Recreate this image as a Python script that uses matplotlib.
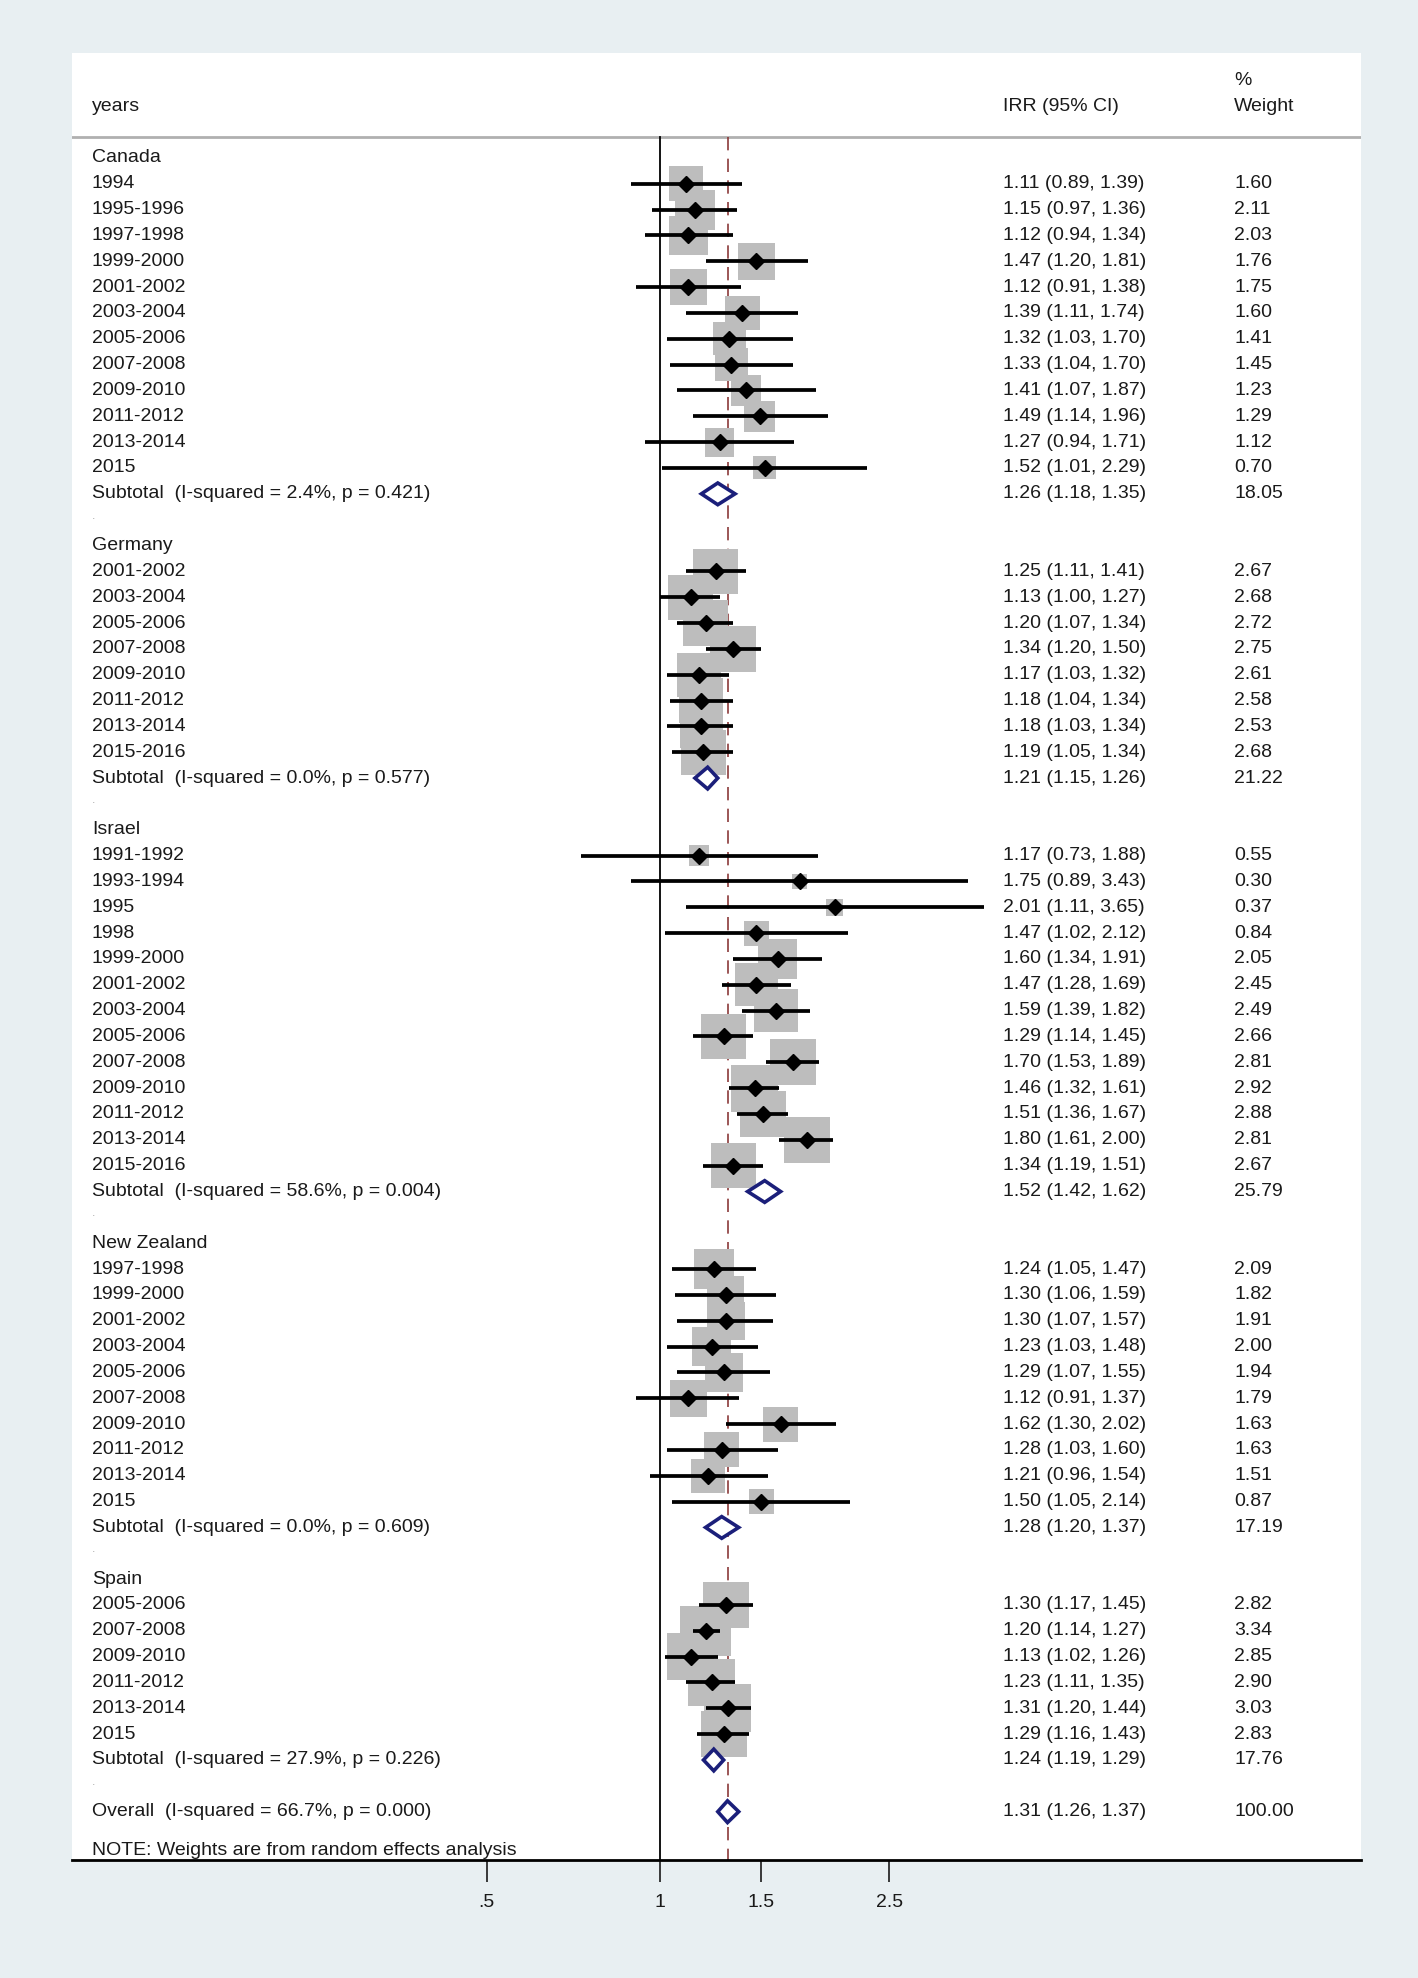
import numpy as np
import matplotlib.pyplot as plt
from matplotlib import transforms

plt.rcParams['font.family'] = ['Liberation Sans', 'DejaVu Sans']

# ---- data ----
canada_years = ["1994", "1995-1996", "1997-1998", "1999-2000", "2001-2002", "2003-2004",
                "2005-2006", "2007-2008", "2009-2010", "2011-2012", "2013-2014", "2015"]
canada_irr = [1.11, 1.15, 1.12, 1.47, 1.12, 1.39, 1.32, 1.33, 1.41, 1.49, 1.27, 1.52]
canada_lo = [0.89, 0.97, 0.94, 1.20, 0.91, 1.11, 1.03, 1.04, 1.07, 1.14, 0.94, 1.01]
canada_hi = [1.39, 1.36, 1.34, 1.81, 1.38, 1.74, 1.70, 1.70, 1.87, 1.96, 1.71, 2.29]
canada_wt = [1.60, 2.11, 2.03, 1.76, 1.75, 1.60, 1.41, 1.45, 1.23, 1.29, 1.12, 0.70]

germany_years = ["2001-2002", "2003-2004", "2005-2006", "2007-2008",
                 "2009-2010", "2011-2012", "2013-2014", "2015-2016"]
germany_irr = [1.25, 1.13, 1.20, 1.34, 1.17, 1.18, 1.18, 1.19]
germany_lo = [1.11, 1.00, 1.07, 1.20, 1.03, 1.04, 1.03, 1.05]
germany_hi = [1.41, 1.27, 1.34, 1.50, 1.32, 1.34, 1.34, 1.34]
germany_wt = [2.67, 2.68, 2.72, 2.75, 2.61, 2.58, 2.53, 2.68]

israel_years = ["1991-1992", "1993-1994", "1995", "1998", "1999-2000", "2001-2002", "2003-2004",
                "2005-2006", "2007-2008", "2009-2010", "2011-2012", "2013-2014", "2015-2016"]
israel_irr = [1.17, 1.75, 2.01, 1.47, 1.60, 1.47, 1.59, 1.29, 1.70, 1.46, 1.51, 1.80, 1.34]
israel_lo = [0.73, 0.89, 1.11, 1.02, 1.34, 1.28, 1.39, 1.14, 1.53, 1.32, 1.36, 1.61, 1.19]
israel_hi = [1.88, 3.43, 3.65, 2.12, 1.91, 1.69, 1.82, 1.45, 1.89, 1.61, 1.67, 2.00, 1.51]
israel_wt = [0.55, 0.30, 0.37, 0.84, 2.05, 2.45, 2.49, 2.66, 2.81, 2.92, 2.88, 2.81, 2.67]

nz_years = ["1997-1998", "1999-2000", "2001-2002", "2003-2004", "2005-2006",
            "2007-2008", "2009-2010", "2011-2012", "2013-2014", "2015"]
nz_irr = [1.24, 1.30, 1.30, 1.23, 1.29, 1.12, 1.62, 1.28, 1.21, 1.50]
nz_lo = [1.05, 1.06, 1.07, 1.03, 1.07, 0.91, 1.30, 1.03, 0.96, 1.05]
nz_hi = [1.47, 1.59, 1.57, 1.48, 1.55, 1.37, 2.02, 1.60, 1.54, 2.14]
nz_wt = [2.09, 1.82, 1.91, 2.00, 1.94, 1.79, 1.63, 1.63, 1.51, 0.87]

spain_years = ["2005-2006", "2007-2008", "2009-2010", "2011-2012", "2013-2014", "2015"]
spain_irr = [1.30, 1.20, 1.13, 1.23, 1.31, 1.29]
spain_lo = [1.17, 1.14, 1.02, 1.11, 1.20, 1.16]
spain_hi = [1.45, 1.27, 1.26, 1.35, 1.44, 1.43]
spain_wt = [2.82, 3.34, 2.85, 2.90, 3.03, 2.83]

countries = ["Canada", "Germany", "Israel", "New Zealand", "Spain"]
sub_isq = ["2.4%", "0.0%", "58.6%", "0.0%", "27.9%"]
sub_p = ["0.421", "0.577", "0.004", "0.609", "0.226"]
sub_irr = [1.26, 1.21, 1.52, 1.28, 1.24]
sub_lo = [1.18, 1.15, 1.42, 1.20, 1.19]
sub_hi = [1.35, 1.26, 1.62, 1.37, 1.29]
sub_wt = [18.05, 21.22, 25.79, 17.19, 17.76]

overall = dict(isq="66.7%", p="0.000", irr=1.31, lo=1.26, hi=1.37, wt=100.00)

xticks = [0.5, 1, 1.5, 2.5]
xticklabels = [".5", "1", "1.5", "2.5"]

groups = [
    (canada_years, canada_irr, canada_lo, canada_hi, canada_wt),
    (germany_years, germany_irr, germany_lo, germany_hi, germany_wt),
    (israel_years, israel_irr, israel_lo, israel_hi, israel_wt),
    (nz_years, nz_irr, nz_lo, nz_hi, nz_wt),
    (spain_years, spain_irr, spain_lo, spain_hi, spain_wt),
]

# ---- figure ----
W, H = 1418, 1978
fig = plt.figure(figsize=(W / 100, H / 100), dpi=100, facecolor="#e8eff2")
left, right, top, bottom = 72, 1361, 53, 1860
ax = fig.add_axes([left / W, 1 - bottom / H, (right - left) / W, (bottom - top) / H])
ax.set_facecolor("white")

ax.set_xscale("log")
ax.set_xlim(np.exp((left - 660) / 250), np.exp((right - 660) / 250))
ax.set_ylim(65.87, -4.06)

fs = 14
tc = "#1a1a1a"
tr = transforms.blended_transform_factory(ax.transAxes, ax.transData)
x_lab, x_irr, x_wt = 0.0155, 0.7223, 0.9015

box_c = "#bdbdbd"
dia_c = "#1b1f7a"
dh = 0.42


def put(x, y, s, **kw):
    ax.text(x, y, s, transform=tr, va="center", fontsize=fs, color=tc, **kw)


row = 0
for name, (yrs, irr, lo, hi, wt), isq, p, s_e, s_l, s_h, s_w in zip(
        countries, groups, sub_isq, sub_p, sub_irr, sub_lo, sub_hi, sub_wt):
    put(x_lab, row, name)
    row += 1
    rows = np.arange(row, row + len(yrs))
    ax.scatter(irr, rows, marker="s", s=np.array(wt) * 392, color=box_c, lw=0, zorder=2)
    ax.hlines(rows, lo, hi, color="black", lw=2.7, zorder=3)
    ax.plot(irr, rows, "D", color="black", ms=8, zorder=4)
    for r, y, e, l, h, w in zip(rows, yrs, irr, lo, hi, wt):
        put(x_lab, r, y)
        put(x_irr, r, f"{e:.2f} ({l:.2f}, {h:.2f})")
        put(x_wt, r, f"{w:.2f}")
    row += len(yrs)
    ax.fill([s_l, s_e, s_h, s_e], [row, row - dh, row, row + dh], facecolor="white",
            edgecolor=dia_c, lw=2.6, zorder=5)
    put(x_lab, row, f"Subtotal  (I-squared = {isq}, p = {p})")
    put(x_irr, row, f"{s_e:.2f} ({s_l:.2f}, {s_h:.2f})")
    put(x_wt, row, f"{s_w:.2f}")
    row += 1
    ax.text(x_lab, row - 0.15, ".", transform=tr, va="center", fontsize=9, color="#aaaaaa")
    row += 1

# overall
o = overall
ax.fill([o["lo"], o["irr"], o["hi"], o["irr"]], [row, row - dh, row, row + dh], facecolor="white",
        edgecolor=dia_c, lw=2.6, zorder=5)
put(x_lab, row, f"Overall  (I-squared = {o['isq']}, p = {o['p']})")
put(x_irr, row, f"{o['irr']:.2f} ({o['lo']:.2f}, {o['hi']:.2f})")
put(x_wt, row, f"{o['wt']:.2f}")
put(x_lab, row + 1.5, "NOTE: Weights are from random effects analysis")

# header
put(x_lab, -2, "years")
put(x_irr, -2, "IRR (95% CI)")
put(x_wt, -3, "%")
put(x_wt, -2, "Weight")
ax.axhline(-0.81, color="#b0b0b0", lw=2, zorder=1)

# reference lines
ax.plot([1, 1], [-0.81, 65.87], color="black", lw=1.3, zorder=1.5)
ax.plot([o["irr"], o["irr"]], [-0.81, 65.87], color="#8b3a3a", lw=1.2,
        dashes=(8, 5), zorder=1)

# axis
for s in ["top", "left", "right"]:
    ax.spines[s].set_visible(False)
ax.spines["bottom"].set_linewidth(2)
ax.set_yticks([])
ax.set_xticks(xticks)
ax.set_xticklabels(xticklabels)
ax.xaxis.set_minor_locator(plt.NullLocator())
ax.tick_params(axis="x", direction="out", length=15.5, width=1.2, pad=9, labelsize=fs, colors=tc)

fig.savefig("out.png", dpi=100, facecolor=fig.get_facecolor())
